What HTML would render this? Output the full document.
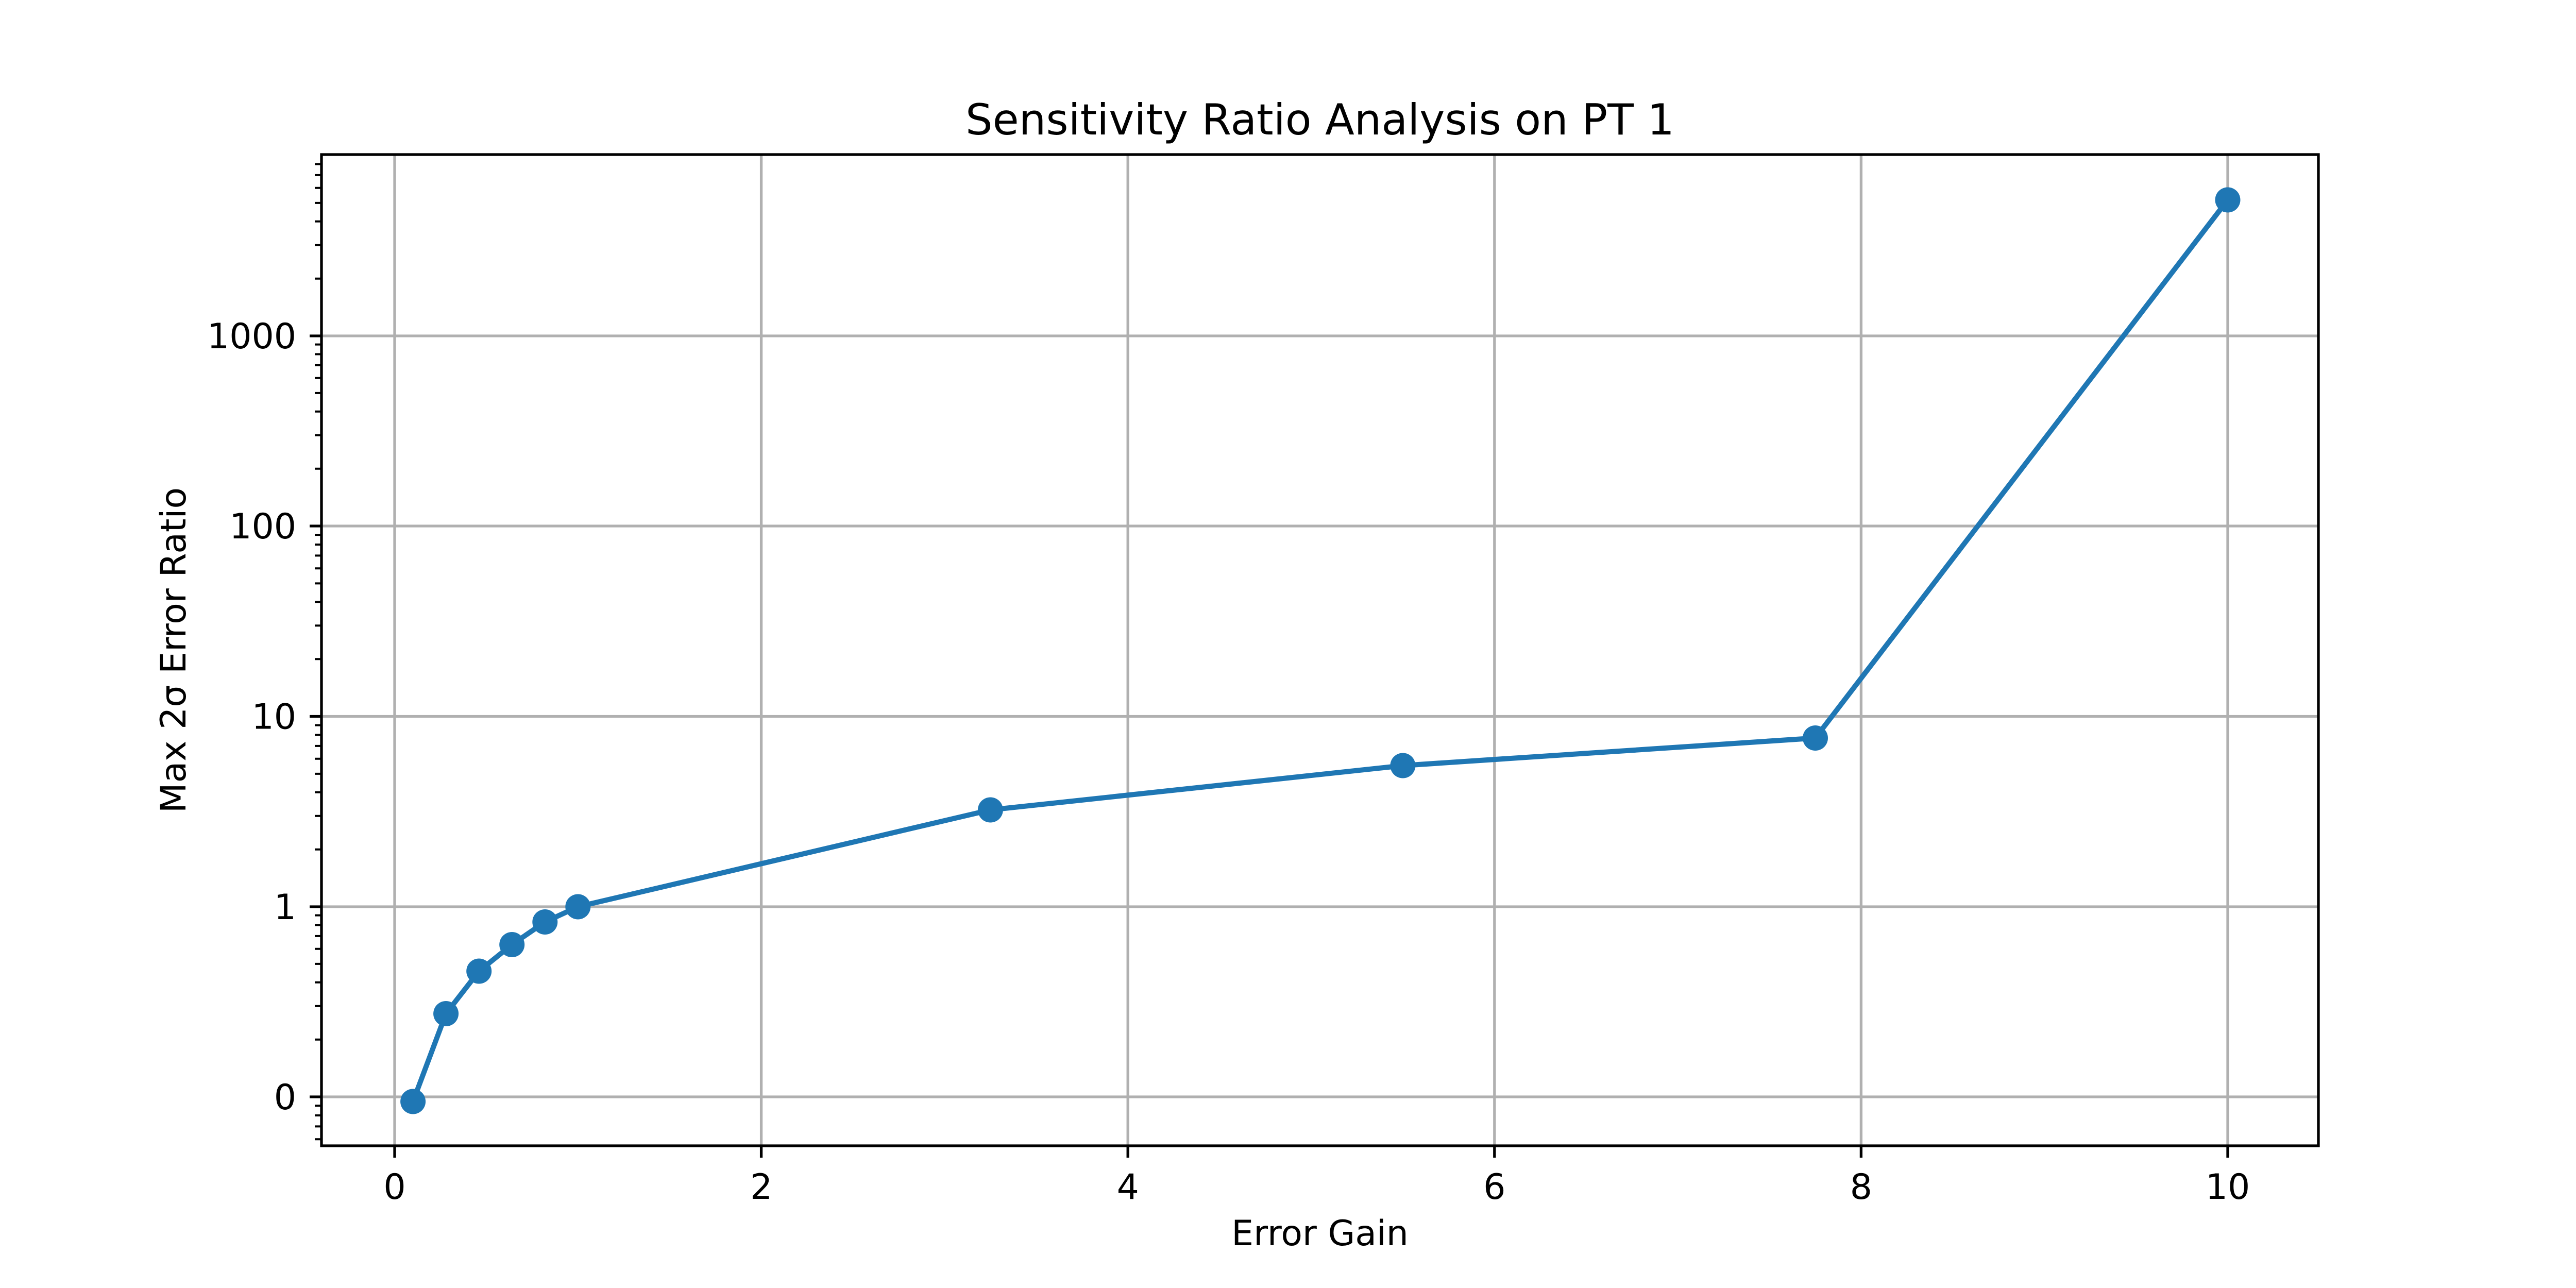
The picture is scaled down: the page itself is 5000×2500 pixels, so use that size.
<!DOCTYPE html>
<html><head><meta charset="utf-8"><style>html,body{margin:0;padding:0;background:#fff}svg{display:block}</style></head>
<body>
<svg xmlns="http://www.w3.org/2000/svg" width="5000" height="2500" viewBox="0 0 5000 2500" font-family="DejaVu Sans, Liberation Sans, sans-serif">
<rect width="5000" height="2500" fill="#fff"/>
<g stroke="#b0b0b0" stroke-width="5.3">
<path d="M766 300V2224M1477.6 300V2224M2189.2 300V2224M2900.8 300V2224M3612.4 300V2224M4324 300V2224"/>
<path d="M624 652H4500M624 1021H4500M624 1390.5H4500M624 1760H4500M624 2129H4500"/>
</g>
<polyline fill="none" stroke="#1f77b4" stroke-width="10" stroke-linejoin="round" points="801.6,2138 865.6,1967.5 929.7,1885 993.7,1833.5 1057.8,1789.5 1121.8,1760 1922.4,1572 2722.9,1486 3523.5,1432.5 4324,388"/>
<g fill="#1f77b4">
<circle cx="801.6" cy="2138" r="24.5"/><circle cx="865.6" cy="1967.5" r="24.5"/><circle cx="929.7" cy="1885" r="24.5"/><circle cx="993.7" cy="1833.5" r="24.5"/><circle cx="1057.8" cy="1789.5" r="24.5"/><circle cx="1121.8" cy="1760" r="24.5"/><circle cx="1922.4" cy="1572" r="24.5"/><circle cx="2722.9" cy="1486" r="24.5"/><circle cx="3523.5" cy="1432.5" r="24.5"/><circle cx="4324" cy="388" r="24.5"/>
</g>
<rect x="624" y="300" width="3876" height="1924" fill="none" stroke="#000" stroke-width="5.3"/>
<g stroke="#000" stroke-width="5.3">
<path d="M601 652H624M601 1021H624M601 1390.5H624M601 1760H624M601 2129H624"/>
<path d="M766 2224V2247M1477.6 2224V2247M2189.2 2224V2247M2900.8 2224V2247M3612.4 2224V2247M4324 2224V2247"/>
</g>
<g stroke="#000" stroke-width="4">
<path d="M611 2211.2H624M611 2186.4H624M611 2165H624M611 2146.1H624
M611 2017.8H624M611 1952.8H624M611 1906.7H624M611 1870.9H624M611 1841.7H624M611 1816.9H624M611 1795.5H624M611 1776.6H624
M611 1648.8H624M611 1583.8H624M611 1537.7H624M611 1501.9H624M611 1472.7H624M611 1447.9H624M611 1426.5H624M611 1407.6H624
M611 1279.3H624M611 1214.3H624M611 1168.2H624M611 1132.4H624M611 1103.2H624M611 1078.4H624M611 1057H624M611 1038.1H624
M611 909.8H624M611 844.8H624M611 798.7H624M611 762.9H624M611 733.7H624M611 708.9H624M611 687.5H624M611 668.6H624
M611 540.8H624M611 475.8H624M611 429.7H624M611 393.9H624M611 364.7H624M611 339.9H624M611 318.5H624"/>
</g>
<g font-size="68" fill="#000" text-anchor="end">
<text x="575" y="676">1000</text>
<text x="575" y="1045">100</text>
<text x="575" y="1414.5">10</text>
<text x="575" y="1784">1</text>
<text x="575" y="2153">0</text>
</g>
<g font-size="68" fill="#000" text-anchor="middle">
<text x="766" y="2327">0</text>
<text x="1477.6" y="2327">2</text>
<text x="2189.2" y="2327">4</text>
<text x="2900.8" y="2327">6</text>
<text x="3612.4" y="2327">8</text>
<text x="4324" y="2327">10</text>
<text x="2562" y="2417">Error Gain</text>
<text transform="translate(360 1262) rotate(-90)">Max 2σ Error Ratio</text>
<text x="2562" y="261" font-size="83">Sensitivity Ratio Analysis on PT 1</text>
</g>
</svg>
</body></html>
